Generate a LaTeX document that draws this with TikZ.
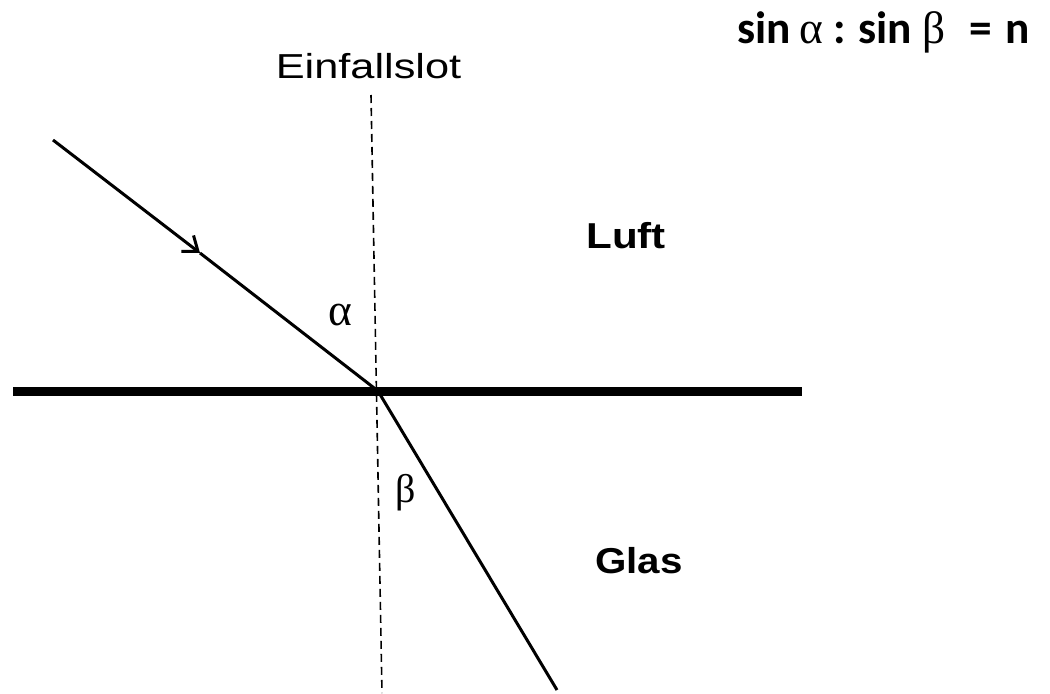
\documentclass[tikz,border=0pt]{standalone}
\usepackage{fontspec}
\setmainfont{Liberation Sans}
\newfontfamily\calib{Carlito}
\newfontfamily\symb{Liberation Serif}
\usetikzlibrary{arrows.meta}
\begin{document}
\begin{tikzpicture}[x=0.75pt,y=-0.75pt,
  ray/.style={line width=2.25pt},
  lbl/.style={inner sep=0pt,font=\fontsize{26}{30}\selectfont},
  greek/.style={inner sep=0pt,font=\symb\fontsize{30}{34}\selectfont}]
\useasboundingbox (0,0) rectangle (1050,693);
% points
\coordinate (top) at (371,95);
\coordinate (bot) at (382,693);
\coordinate (L) at (13,391.5);
\coordinate (R) at (802,391.5);
\coordinate (S) at (53,140);
\coordinate (A) at (200,253);
\coordinate (O) at (378,391);
\coordinate (E) at (557,690);
% normal
\draw[line width=1.2pt,dash pattern=on 6pt off 3.75pt] (top) -- (bot);
% interface
\draw[line width=6.75pt] (L) -- (R);
% rays
\draw[ray,-{Straight Barb[length=10pt,width=15pt,line width=2.25pt]}] (S) -- (A);
\draw[ray] (A) -- (O);
\draw[ray] (O) -- (E);
% labels
\node[lbl,anchor=base] (einf) at (368.5,78) {\scalebox{1.25}[1]{Einfallslot}};
\node[lbl,anchor=base west,font=\bfseries\fontsize{27}{30}\selectfont] (luft) at (586,248) {\scalebox{1.17}[1]{Luft}};
\node[lbl,anchor=base west,font=\bfseries\fontsize{27}{30}\selectfont] (glas) at (595,573) {\scalebox{1.12}[1]{Glas}};
\node[greek,font=\symb\fontsize{34}{38}\selectfont] (alpha) at (340,315) {α};
\node[greek] (beta) at (406,493) {β};
\node[inner sep=0pt,anchor=base east,font=\calib\bfseries\fontsize{34}{38}\selectfont] (law) at (1030,43)
  {sin\hspace{6pt}{\symb\mdseries α}\hspace{8pt}:\hspace{9pt}sin\hspace{8pt}{\symb\mdseries β}\hspace{18pt}=\hspace{10pt}n};
\end{tikzpicture}
\end{document}
